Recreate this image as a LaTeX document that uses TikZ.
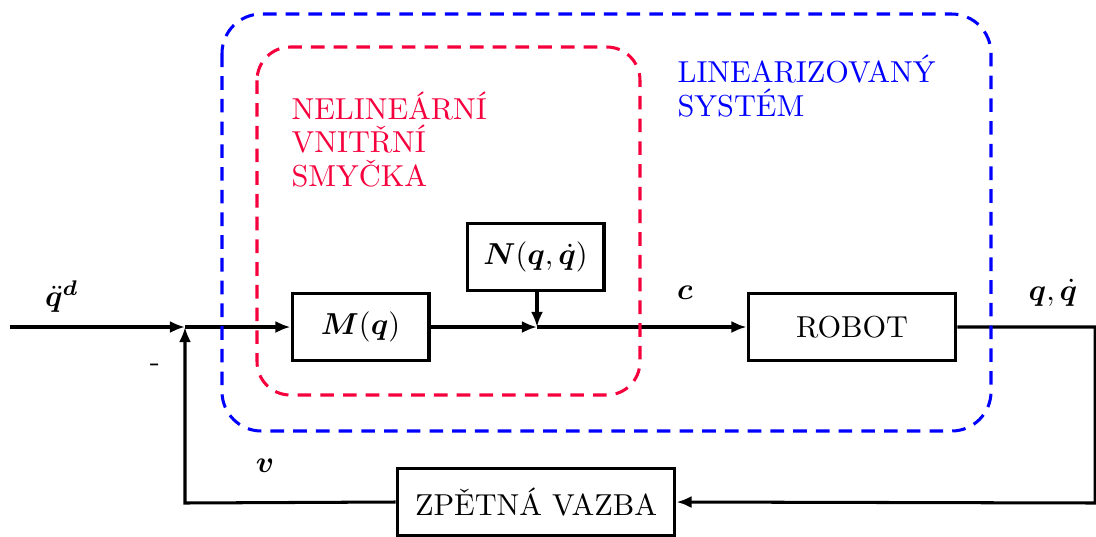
\documentclass[tikz,border=0pt]{standalone}
\usepackage{fontspec}
\usepackage{bm}
\usetikzlibrary{arrows.meta}
\definecolor{myred}{RGB}{245,0,60}
\definecolor{myblue}{RGB}{0,0,255}
\begin{document}
\begin{tikzpicture}[x=0.33pt,y=-0.33pt,
  blk/.style={draw,line width=1pt,minimum height=21.8pt,inner sep=0pt,font=\normalsize},
  sig/.style={line width=1pt,-{Latex[length=5pt,width=4pt]}},
  wire/.style={line width=1pt},
  region/.style={dashed,line width=1pt,dash pattern=on 4.5pt off 3pt},
  lbl/.style={inner sep=1pt}]
\useasboundingbox (0,0) rectangle (1096,536);
% blocks
\node[blk,minimum width=45.2pt] (M) at (360.5,327) {$\bm{M}(\bm{q})$};
\node[blk,minimum width=45.2pt] (N) at (535.5,257) {$\bm{N}(\bm{q},\dot{\bm{q}})$};
\node[blk,minimum width=68.6pt] (R) at (852,327) {ROBOT};
\node[blk,minimum width=91.7pt] (F) at (536,502) {ZPĚTNÁ VAZBA};
% coordinates
\coordinate (in) at (10,327);
\coordinate (sum) at (185,327);
\coordinate (nsum) at (537,327);
\coordinate (out) at (1095,327);
\coordinate (fbr) at (1095,503);
\coordinate (fbl) at (185,503);
% connectors
\draw[sig] (in) -- (sum);
\draw[sig] (sum) -- (M.west);
\draw[sig] (M.east) -- (nsum);
\draw[sig] (N.south -| nsum) -- (nsum);
\draw[sig] (nsum) -- (R.west);
\draw[sig] (R.east) -- (out) -- (fbr) -- (F.east);
\draw[sig] (F.west) -- (fbl) -- (sum);
% regions
\draw[region,myblue,rounded corners=13pt] (222,14) rectangle (991,431);
\draw[region,myred,rounded corners=11pt] (257,47) rectangle (640,395);
% texts
\node[inner sep=0pt,anchor=base west,align=left,text=myred] (t1) at (291,186)
  {NELINEÁRNÍ\\[-1pt]VNITŘNÍ\\[-1pt]SMYČKA};
\node[inner sep=0pt,anchor=base west,align=left,text=myblue] (t2) at (677,116)
  {LINEARIZOVANÝ\\[-1pt]SYSTÉM};
\node[lbl] (lqd) at (62,297) {$\ddot{\bm{q}}^{\bm{d}}$};
\node[lbl] (lminus) at (155,368) {-};
\node[lbl] (lv) at (265,466) {$\bm{v}$};
\node[lbl] (lc) at (685,293) {$\bm{c}$};
\node[lbl] (lq) at (1053,293) {$\bm{q},\dot{\bm{q}}$};
\end{tikzpicture}
\end{document}
